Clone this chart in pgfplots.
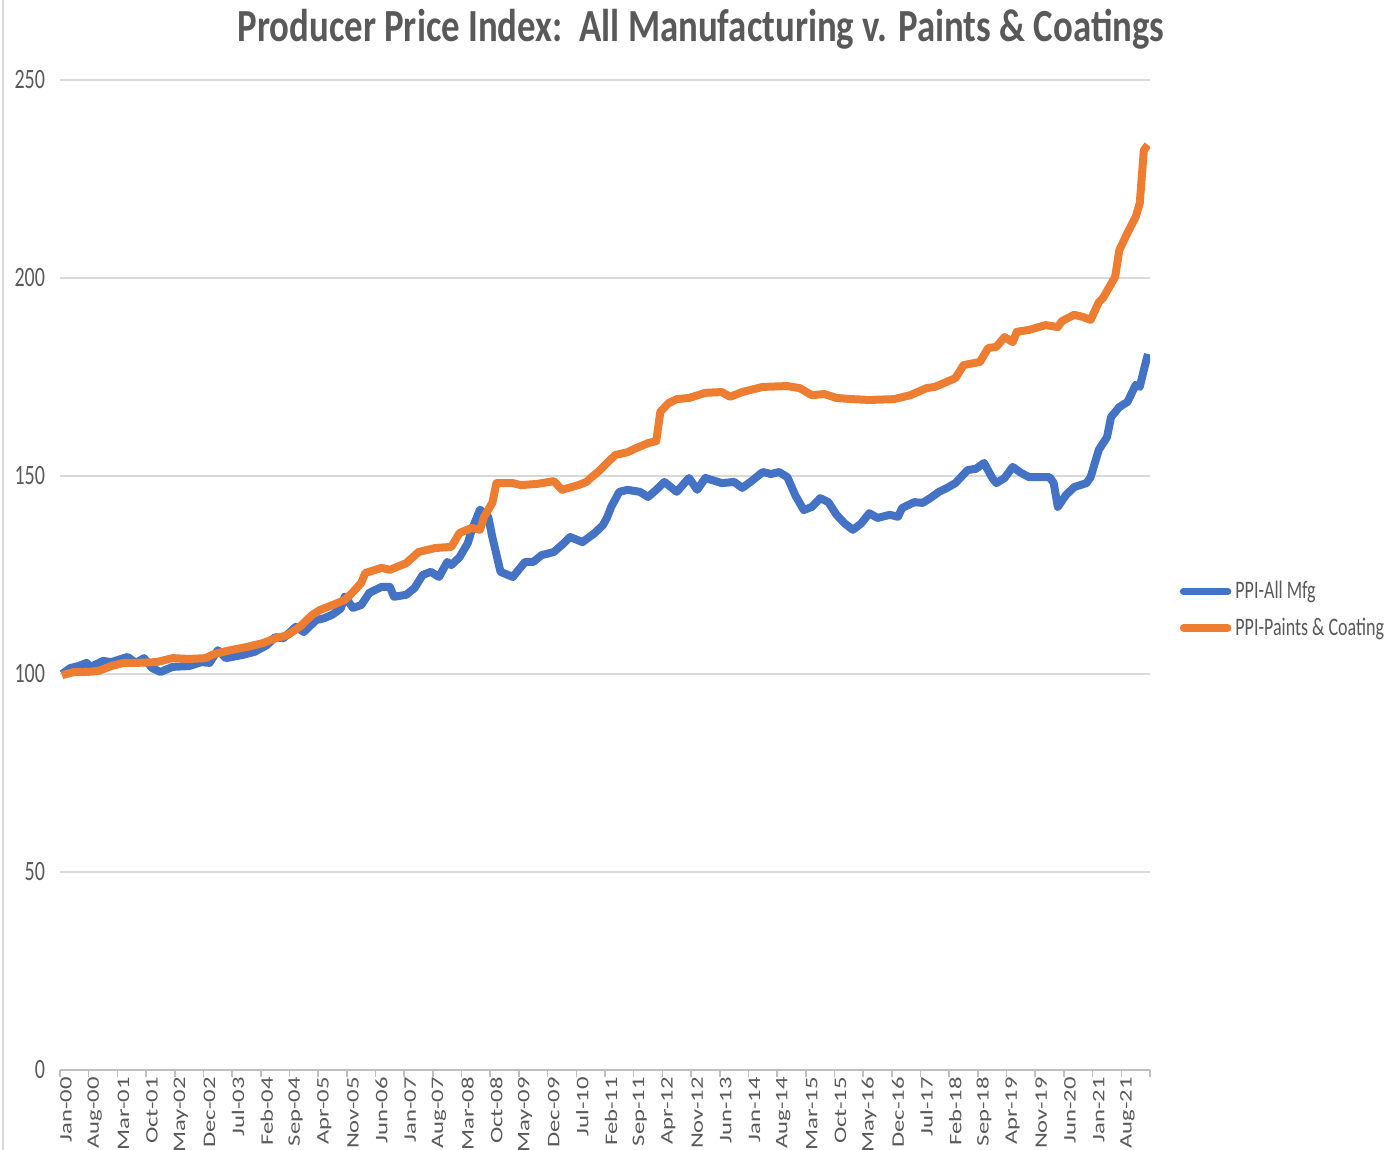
\documentclass[border=0pt]{standalone}
\usepackage{fontspec}
\setmainfont{Carlito}
\usepackage{graphicx}
\usepackage{pgfplots}
\pgfplotsset{compat=1.18}
\definecolor{blueA}{HTML}{4472C4}
\definecolor{orangeA}{HTML}{ED7D31}
\definecolor{txt}{HTML}{595959}
\definecolor{gridc}{HTML}{D9D9D9}
\definecolor{axc}{HTML}{BFBFBF}
\newcommand\vs[1]{\scalebox{1}[1.4]{#1}}
\newcommand\ts[1]{\scalebox{1}[1.25]{#1}}
\newcommand\hs[1]{\scalebox{1.4}[1]{#1}}
\begin{document}
\begin{tikzpicture}
\useasboundingbox (-30pt,-40pt) rectangle (663pt,535pt);
\draw[gridc, line width=0.8pt] (-28.5pt,-40pt) -- (-28.5pt,535pt);
\begin{axis}[
  at={(0pt,0pt)}, anchor=south west,
  scale only axis, width=545pt, height=495pt,
  xmin=-0.5, xmax=265.5, ymin=0, ymax=250,
  axis x line*=bottom, axis y line*=left,
  x axis line style={-, draw=axc, line width=0.8pt},
  y axis line style={draw=none},
  ytick={0,50,...,250},
  ymajorgrids, grid style={gridc, line width=0.8pt},
  major tick length=0pt, minor tick length=3.5pt, tick align=outside,
  xtick={0,7,...,259},
  minor xtick={-0.5,6.5,...,258.5,265.5},
  minor x tick style={draw=axc, line width=0.8pt},
  xticklabels={\hs{Jan-00},\hs{Aug-00},\hs{Mar-01},\hs{Oct-01},\hs{May-02},\hs{Dec-02},\hs{Jul-03},\hs{Feb-04},\hs{Sep-04},\hs{Apr-05},\hs{Nov-05},\hs{Jun-06},\hs{Jan-07},\hs{Aug-07},\hs{Mar-08},\hs{Oct-08},\hs{May-09},\hs{Dec-09},\hs{Jul-10},\hs{Feb-11},\hs{Sep-11},\hs{Apr-12},\hs{Nov-12},\hs{Jun-13},\hs{Jan-14},\hs{Aug-14},\hs{Mar-15},\hs{Oct-15},\hs{May-16},\hs{Dec-16},\hs{Jul-17},\hs{Feb-18},\hs{Sep-18},\hs{Apr-19},\hs{Nov-19},\hs{Jun-20},\hs{Jan-21},\hs{Aug-21}},
  xticklabel style={rotate=90, anchor=east, font=\fontsize{8.8}{10}\selectfont, text=txt, yshift=-2pt},
  yticklabel style={font=\fontsize{10}{12}\selectfont, text=txt, xshift=-4pt},
  yticklabel={\vs{\pgfmathprintnumber{\tick}}},
  /pgf/number format/assume math mode=true,
  legend style={at={(1.027,0.465)}, anchor=west, draw=none, fill=none,
    font=\fontsize{9}{11}\selectfont, text=txt, row sep=4pt, inner sep=0pt,
    cells={anchor=west}},
  legend image code/.code={\draw[#1, line width=3.8pt, line cap=round] (0pt,0pt) -- (22pt,0pt);},
]
\addplot[blueA, line width=4pt, line join=round, mark=none] coordinates {
(0,100) (2,101.5) (4,102) (6,102.8) (7,101.8) (10,103.3) (12,103) (16,104.3)
(18,102.8) (20,104) (22,101.5) (24,100.5) (27,101.8) (31,102) (34,103) (36,102.8)
(38,106) (40,104) (44,104.8) (47,105.6) (50,107.3) (52,109.3) (54,109) (57,111.9)
(59,110.6) (62,113.6) (64,114.1) (66,115) (68,116.5) (69,119.5) (71,116.7) (73,117.4)
(75,120.5) (78,122) (80,122) (81,119.5) (84,120) (86,121.7) (88,125) (90,125.8)
(92,124.5) (94,128.3) (95,127.5) (97,129.5) (99,133) (100,136.4) (102,141.5) (104,139.7)
(105,134.6) (107,125.8) (110,124.5) (113,128.3) (115,128.3) (117,130) (120,130.8) (122,132.6)
(124,134.6) (127,133.3) (130,135.6) (132,137.6) (133,139.5) (134,142.2) (136,146) (138,146.5)
(141,146) (143,144.7) (145,146.5) (147,148.5) (150,146) (153,149.5) (155,146.5) (157,149.5)
(161,148.2) (164,148.5) (166,147) (168,148.5) (171,151) (173,150.5) (175,151) (177,149.7)
(179,145) (181,141.4) (183,142.2) (185,144.4) (187,143.4) (189,140.2) (191,138) (193,136.4)
(195,138) (197,140.6) (199,139.4) (202,140.2) (204,139.7) (205,141.9) (208,143.4) (210,143.2)
(212,144.5) (214,146) (216,147) (218,148.2) (221,151.5) (223,151.8) (225,153.3) (227,149.5)
(228,148.2) (230,149.5) (232,152.3) (234,150.8) (236,149.7) (241,149.7) (242,148.2) (243,142.2)
(245,145.2) (247,147.2) (250,148.2) (251,149.7) (253,156.6) (255,159.8) (256,164.9) (258,167.4)
(260,168.7) (262,173) (263,172.5) (264,176.8) (265,180.8)
};
\addlegendentry{\vs{PPI-All Mfg}}
\addplot[orangeA, line width=4pt, line join=round, mark=none] coordinates {
(0,99.7) (3,100.5) (6,100.5) (9,100.8) (12,102) (15,102.8) (18,102.8) (23,103)
(27,104) (31,103.8) (35,104) (37,105) (41,106) (45,106.8) (49,107.8) (52,109)
(55,109.8) (58,111.9) (61,114.9) (63,116.2) (66,117.4) (69,118.7) (71,120.7) (73,123)
(74,125.5) (78,126.8) (80,126.3) (84,128) (87,130.8) (91,131.8) (95,132.1) (97,135.6)
(100,136.9) (102,136.4) (103,139.7) (105,143.2) (106,148.2) (110,148.2) (112,147.7) (116,148)
(120,148.7) (122,146.5) (126,147.7) (128,148.5) (129,149.5) (131,151.2) (133,153.3) (135,155.3)
(138,156) (140,157) (143,158.3) (145,158.8) (146,166.2) (148,168.4) (150,169.4) (153,169.7)
(157,171) (161,171.2) (163,170) (166,171.2) (171,172.5) (177,172.7) (180,172.2) (183,170.4)
(186,170.7) (189,169.7) (193,169.4) (197,169.2) (203,169.4) (207,170.4) (211,172.2) (213,172.5)
(218,174.7) (220,178) (224,178.8) (226,182.3) (228,182.6) (230,185.1) (232,183.8) (233,186.4)
(236,186.9) (240,188.1) (243,187.6) (244,189.1) (247,190.7) (249,190.2) (251,189.4) (253,193.9)
(254,194.9) (257,200.3) (258,207) (260,211.4) (262,215.4) (263,218.9) (264,232.3) (265,233.6)
};
\addlegendentry{\vs{PPI-Paints \& Coating}}
\end{axis}
\node[font=\bfseries\fontsize{18.4}{20}\selectfont, text=txt] at (320.5pt,520.5pt)
  {\ts{Producer Price Index:\ \ All Manufacturing v. Paints \& Coatings}};
\end{tikzpicture}
\end{document}
